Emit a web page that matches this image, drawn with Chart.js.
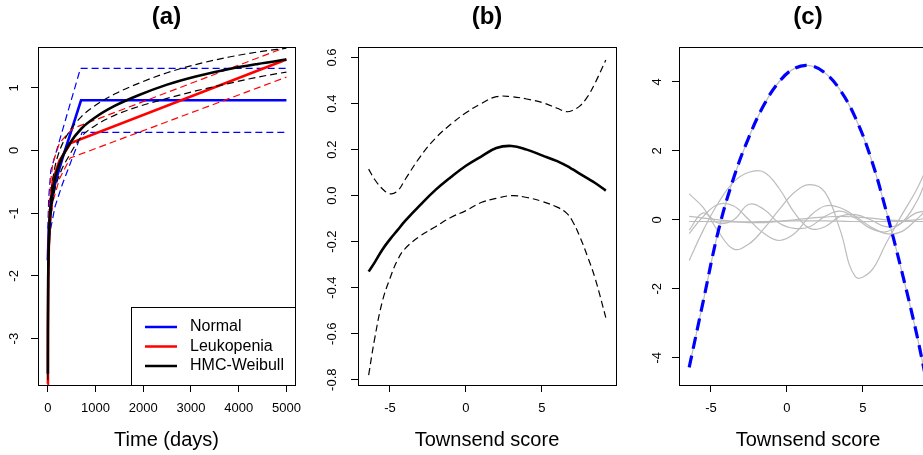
<!DOCTYPE html>
<html>
<head>
<meta charset="utf-8">
<script src="https://cdn.jsdelivr.net/npm/chart.js@4.4.1/dist/chart.umd.min.js"></script>
<style>
html, body { margin: 0; padding: 0; background: #fff; overflow: hidden; }
#wrap { position: relative; width: 923px; height: 455px; overflow: hidden; background: #fff; }
canvas { position: absolute; top: 0; }
</style>
</head>
<body>
<div id="wrap">
  <canvas id="chartA" width="308" height="455" style="left:0px"></canvas>
  <canvas id="chartB" width="320" height="455" style="left:308px"></canvas>
  <canvas id="chartC" width="320" height="455" style="left:628px"></canvas>
</div>
<script>
// ---- panel (a): log cumulative hazard against time ----
const normalTime = [1, 20, 60, 100, 168, 314, 697, 5000];
const normalEst = [-1.75, -1.25, -0.93, -0.72, -0.48, -0.11, 0.8, 0.8];
const normalHiTime = [1, 20, 63, 685, 5000];
const normalHi = [-1.25, -0.75, -0.32, 1.31, 1.31];
const normalLoTime = [1, 20, 60, 150, 300, 500, 720, 5000];
const normalLo = [-1.95, -1.55, -1.25, -0.9, -0.55, -0.15, 0.29, 0.29];

const leukTime = [1, 3, 10, 30, 60, 105, 245, 480, 5000];
const leukEst = [-3.72, -2.9, -2.0, -1.25, -0.8, -0.48, -0.16, 0.12, 1.45];
const leukHiTime = [1, 3, 10, 30, 60, 105, 245, 520, 5000];
const leukHi = [-3.5, -2.6, -1.7, -0.95, -0.5, -0.2, 0.12, 0.35, 1.65];
const leukLoTime = [1, 3, 10, 30, 60, 105, 245, 470, 5000];
const leukLo = [-3.95, -3.2, -2.35, -1.6, -1.15, -0.82, -0.45, -0.12, 1.17];

const hmcTime = [1, 3, 10, 30, 70, 140, 250, 450, 705, 1000, 1400, 1900, 2500, 3100, 3800, 4400, 5000];
const hmcEst = [-3.56, -2.8, -1.95, -1.3, -0.85, -0.48, -0.2, 0.1, 0.35, 0.53, 0.71, 0.88, 1.05, 1.18, 1.3, 1.38, 1.45];
const hmcHi = [-3.46, -2.68, -1.8, -1.13, -0.67, -0.3, 0.0, 0.3, 0.54, 0.72, 0.9, 1.07, 1.24, 1.37, 1.49, 1.57, 1.63];
const hmcLo = [-3.66, -2.92, -2.1, -1.47, -1.03, -0.66, -0.38, -0.08, 0.22, 0.4, 0.56, 0.7, 0.83, 0.95, 1.07, 1.17, 1.25];

const timeTicks = [0, 1000, 2000, 3000, 4000, 5000];
const hazardTicks = [-3, -2, -1, 0, 1];
const legendLabels = ['Normal', 'Leukopenia', 'HMC-Weibull'];
const legendColors = ['#0000ff', '#ff0000', '#000000'];

// ---- panel (b): smooth effect of Townsend score ----
const scoreGrid = [-6.4, -6, -5.5, -5, -4.5, -4, -3, -2, -1, 0, 1, 2, 3, 4, 5, 6, 6.6, 7, 7.5, 8, 8.5, 9.2];
const effectEst = [-0.33, -0.29, -0.235, -0.19, -0.15, -0.11, -0.04, 0.025, 0.08, 0.13, 0.17, 0.207, 0.216, 0.2, 0.175, 0.15, 0.13, 0.115, 0.095, 0.075, 0.055, 0.022];
const effectHi = [0.115, 0.07, 0.03, 0.008, 0.02, 0.07, 0.17, 0.25, 0.31, 0.36, 0.4, 0.43, 0.43, 0.42, 0.405, 0.38, 0.365, 0.37, 0.39, 0.43, 0.49, 0.59];
const effectLo = [-0.78, -0.62, -0.46, -0.36, -0.28, -0.23, -0.175, -0.135, -0.095, -0.065, -0.03, -0.012, 0.0, -0.008, -0.025, -0.05, -0.075, -0.11, -0.18, -0.265, -0.36, -0.53];
const scoreTicks = [-5, 0, 5];
const effectTicks = [-0.8, -0.6, -0.4, -0.2, 0.0, 0.2, 0.4, 0.6];

// ---- panel (c): basis curves ----
const basisGrid = [-6.43, -5.5, -4.5, -3.5, -2.5, -1.5, -0.5, 0.5, 1.5, 2.5, 3.5, 4.5, 5.5, 6.5, 7.5, 8.5, 9.2];
const basisQuad = [-4.28, -2.35, -0.3, 1.22, 2.4, 3.34, 4.01, 4.39, 4.47, 4.26, 3.76, 2.96, 1.82, 0.3, -1.4, -3.25, -4.74];
const basisA = [0.75, 0.35, -0.35, -0.85, -0.7, -0.25, 0.3, 0.8, 1.02, 0.8, -0.3, -1.65, -1.5, -0.7, 0.1, 0.85, 1.5];
const basisB = [-1.18, -0.3, 0.5, 1.1, 1.38, 1.38, 0.9, 0.2, -0.25, -0.2, 0.1, 0.15, 0.0, -0.2, -0.1, 0.5, 1.2];
const basisC = [-0.4, 0.1, 0.45, 0.4, 0.0, -0.4, -0.6, -0.4, 0.1, 0.4, 0.35, 0.1, -0.2, -0.4, -0.35, 0.0, 0.3];
const basisD = [-0.3, 0.2, -0.1, 0.0, 0.45, 0.3, -0.1, -0.25, -0.2, 0.1, 0.25, 0.05, -0.25, -0.35, -0.1, 0.2, 0.25];
const basisE = [0.1, 0.05, 0.0, -0.05, -0.08, -0.08, -0.05, 0.0, 0.05, 0.08, 0.1, 0.08, 0.05, 0.0, -0.02, 0.0, 0.05];
const basisF = [-0.05, -0.05, -0.06, -0.06, -0.06, -0.05, -0.04, -0.03, -0.03, -0.03, -0.04, -0.05, -0.05, -0.05, -0.05, -0.05, -0.05];
const basisTicks = [-4, -2, 0, 2, 4];

const FONT = "'Liberation Sans', Arial, Helvetica, sans-serif";
const GREY = '#bcbcbc';

function pts(xs, ys) {
    return xs.map((x, i) => ({ x: x, y: ys[i] }));
}

function line(xs, ys, color, width, dash, tension) {
    return {
        data: pts(xs, ys),
        borderColor: color,
        borderWidth: width,
        borderDash: dash || [],
        pointRadius: 0,
        tension: tension || 0,
        fill: false
    };
}

const boxPlugin = {
    id: 'plotBox',
    afterDatasetsDraw(chart) {
        const { ctx, chartArea: a } = chart;
        ctx.save();
        ctx.strokeStyle = '#000';
        ctx.lineWidth = 1;
        ctx.strokeRect(a.left + 0.5, a.top + 0.5, a.right - a.left, a.bottom - a.top);
        ctx.restore();
    }
};

const legendPlugin = {
    id: 'cornerLegend',
    afterDraw(chart) {
        const { ctx, chartArea: a } = chart;
        const w = 164, h = 78;
        const x0 = a.right - w, y0 = a.bottom - h;
        ctx.save();
        ctx.strokeStyle = '#000';
        ctx.lineWidth = 1;
        ctx.strokeRect(x0 + 0.5, y0 + 0.5, w, h);
        ctx.font = '16px ' + FONT;
        ctx.textBaseline = 'middle';
        legendLabels.forEach((label, i) => {
            const y = y0 + 20 + i * 19.5;
            ctx.strokeStyle = legendColors[i];
            ctx.lineWidth = 2.5;
            ctx.beginPath();
            ctx.moveTo(x0 + 14, y);
            ctx.lineTo(x0 + 46, y);
            ctx.stroke();
            ctx.fillStyle = '#000';
            ctx.fillText(label, x0 + 59, y);
        });
        ctx.restore();
    }
};

function axisGrid() {
    return { display: true, drawOnChartArea: false, drawTicks: true, tickLength: 7, color: '#000', lineWidth: 1 };
}

function makeChart(id, cfg) {
    return new Chart(document.getElementById(id), {
        type: 'line',
        data: { datasets: cfg.datasets },
        plugins: cfg.plugins,
        options: {
            responsive: false,
            animation: false,
            events: [],
            layout: { padding: { left: 0, right: cfg.padRight, top: 0, bottom: 0 } },
            plugins: {
                legend: { display: false },
                tooltip: { enabled: false },
                title: {
                    display: true,
                    text: cfg.title,
                    fullSize: false,
                    color: '#000',
                    font: { family: FONT, size: 24, weight: 'bold', lineHeight: 1.2 },
                    padding: { top: 3, bottom: 15.2 }
                }
            },
            scales: {
                x: {
                    type: 'linear',
                    min: cfg.xMin,
                    max: cfg.xMax,
                    afterBuildTicks: s => { s.ticks = cfg.xTicks.map(v => ({ value: v })); },
                    afterFit: s => { s.height = 70; s.paddingLeft = 0; s.paddingRight = 0; },
                    grid: axisGrid(),
                    border: { display: true, color: '#000', width: 1 },
                    ticks: {
                        color: '#000',
                        font: { family: FONT, size: 13 },
                        padding: 9,
                        maxRotation: 0,
                        autoSkip: false,
                        callback: v => String(v)
                    },
                    title: {
                        display: true,
                        text: cfg.xTitle,
                        color: '#000',
                        font: { family: FONT, size: 20 },
                        padding: { top: 0, bottom: 3 }
                    }
                },
                y: {
                    type: 'linear',
                    min: cfg.yMin,
                    max: cfg.yMax,
                    afterBuildTicks: s => { s.ticks = cfg.yTicks.map(v => ({ value: v })); },
                    afterFit: s => { s.width = cfg.yWidth; s.paddingTop = 0; s.paddingBottom = 0; },
                    grid: axisGrid(),
                    border: { display: true, color: '#000', width: 1 },
                    ticks: {
                        color: '#000',
                        font: { family: FONT, size: 13 },
                        padding: cfg.yPad,
                        minRotation: 90,
                        maxRotation: 90,
                        crossAlign: 'center',
                        autoSkip: false,
                        callback: cfg.yFormat || (v => String(v))
                    }
                }
            }
        }
    });
}

const dash = [7, 4];

makeChart('chartA', {
    title: '(a)',
    xTitle: 'Time (days)',
    xMin: -205, xMax: 5180, xTicks: timeTicks,
    yMin: -3.74, yMax: 1.65, yTicks: hazardTicks,
    yWidth: 38, yPad: 11, padRight: 13,
    plugins: [boxPlugin, legendPlugin],
    datasets: [
        Object.assign(line(hmcTime, hmcEst, '#000', 2.6), { cubicInterpolationMode: 'monotone' }),
        Object.assign(line(hmcTime, hmcHi, '#000', 1.2, dash), { cubicInterpolationMode: 'monotone' }),
        Object.assign(line(hmcTime, hmcLo, '#000', 1.2, dash), { cubicInterpolationMode: 'monotone' }),
        line(leukTime, leukEst, '#ff0000', 2.6),
        line(leukHiTime, leukHi, '#ff0000', 1.2, dash),
        line(leukLoTime, leukLo, '#ff0000', 1.2, dash),
        line(normalTime, normalEst, '#0000ff', 2.6),
        line(normalHiTime, normalHi, '#0000ff', 1.2, dash),
        line(normalLoTime, normalLo, '#0000ff', 1.2, dash)
    ]
});

makeChart('chartB', {
    title: '(b)',
    xTitle: 'Townsend score',
    xMin: -7.1, xMax: 9.87, xTicks: scoreTicks,
    yMin: -0.823, yMax: 0.646, yTicks: effectTicks,
    yFormat: v => v.toFixed(1),
    yWidth: 50, yPad: 7, padRight: 12,
    plugins: [boxPlugin],
    datasets: [
        line(scoreGrid, effectEst, '#000', 2.6, [], 0.4),
        line(scoreGrid, effectHi, '#000', 1.2, dash, 0.4),
        line(scoreGrid, effectLo, '#000', 1.2, dash, 0.4)
    ]
});

makeChart('chartC', {
    title: '(c)',
    xTitle: 'Townsend score',
    xMin: -7.1, xMax: 9.87, xTicks: scoreTicks,
    yMin: -4.79, yMax: 5.01, yTicks: basisTicks,
    yWidth: 51, yPad: 9, padRight: 11,
    plugins: [boxPlugin],
    datasets: [
        line(basisGrid, basisQuad, '#0000ff', 3.2, [12, 7], 0.4),
        line(basisGrid, basisQuad, GREY, 1.2, [], 0.4),
        line(basisGrid, basisA, GREY, 1.2, [], 0.4),
        line(basisGrid, basisB, GREY, 1.2, [], 0.4),
        line(basisGrid, basisC, GREY, 1.2, [], 0.4),
        line(basisGrid, basisD, GREY, 1.2, [], 0.4),
        line(basisGrid, basisE, GREY, 1.2, [], 0.4),
        line(basisGrid, basisF, GREY, 1.2, [], 0.4)
    ]
});
</script>
</body>
</html>
